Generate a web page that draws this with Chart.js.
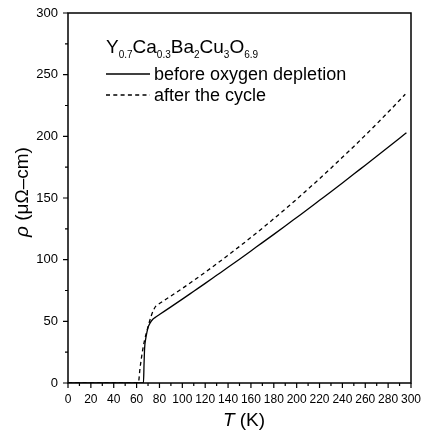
<!DOCTYPE html>
<html>
<head>
<meta charset="utf-8">
<script src="https://cdn.jsdelivr.net/npm/chart.js@4.4.1/dist/chart.umd.min.js"></script>
<style>
  html, body { margin: 0; padding: 0; background: #fff; }
  #wrap { width: 421px; height: 437px; }
</style>
</head>
<body>
<div id="wrap"><canvas id="c" width="421" height="437"></canvas></div>
<script>
// ---- data ----
const tBefore   = [0, 66, 66.5, 67, 68, 69, 70, 72, 74, 76, 80, 90, 100, 110, 120, 130, 140, 150, 160, 170, 180, 190, 200, 210, 220, 230, 240, 250, 260, 270, 280, 290, 296];
const rhoBefore = [0, 0, 15, 28, 36, 41, 45, 49, 51.5, 53, 55.5, 61.7, 68.0, 74.4, 80.8, 87.3, 93.8, 100.4, 107.1, 113.8, 120.5, 127.3, 134.2, 141.1, 148.1, 155.1, 162.2, 169.4, 176.6, 183.8, 191.1, 198.5, 203];
const tAfter    = [0, 61.5, 63, 65, 67, 69, 71, 73, 75, 77, 80, 90, 100, 110, 120, 130, 140, 150, 160, 170, 180, 190, 200, 210, 220, 230, 240, 250, 260, 270, 280, 290, 295];
const rhoAfter  = [0, 0, 12, 25, 35, 42, 49, 55, 59.5, 62.5, 64.4, 70.5, 76.7, 83.2, 89.8, 96.6, 103.6, 110.7, 118.0, 125.5, 133.2, 141.0, 149.0, 157.3, 165.6, 174.2, 183.0, 191.8, 200.9, 210.1, 219.6, 229.2, 234.1];
const seriesLabels = ["before oxygen depletion", "after the cycle"];
const formulaParts = [["Y",0],["0.7",1],["Ca",0],["0.3",1],["Ba",0],["2",1],["Cu",0],["3",1],["O",0],["6.9",1]];
const xTitle = ["T", " (K)"];
const yTitle = ["\u03C1", " (\u03BC\u03A9\u2013cm)"];
const xMin = 0, xMax = 300, xStep = 10, xLabelEvery = 20;
const yMin = 0, yMax = 300, yStep = 25, yLabelEvery = 50;

const FONT = "'Liberation Sans', Arial, Helvetica, sans-serif";
const toXY = (xs, ys) => xs.map((x, i) => ({x: x, y: ys[i]}));

const decor = {
  id: 'decor',
  afterDraw(chart) {
    const ctx = chart.ctx, a = chart.chartArea;
    const sx = chart.scales.x, sy = chart.scales.y;
    ctx.save();
    ctx.strokeStyle = '#000';
    ctx.fillStyle = '#000';
    // frame
    ctx.lineWidth = 1.5;
    ctx.strokeRect(a.left, a.top, a.right - a.left, a.bottom - a.top);
    // ticks
    ctx.lineWidth = 1.2;
    ctx.beginPath();
    sx.ticks.forEach(t => {
      const p = sx.getPixelForValue(t.value);
      const len = (t.value % xLabelEvery === 0) ? 5 : 3;
      ctx.moveTo(p, a.bottom); ctx.lineTo(p, a.bottom + len);
    });
    sy.ticks.forEach(t => {
      const p = sy.getPixelForValue(t.value);
      const len = (t.value % yLabelEvery === 0) ? 5 : 3;
      ctx.moveTo(a.left, p); ctx.lineTo(a.left - len, p);
    });
    ctx.stroke();

    // formula title
    let x = 106;
    const base = 53;
    formulaParts.forEach(([txt, sub]) => {
      ctx.font = sub ? `10px ${FONT}` : `19px ${FONT}`;
      ctx.textBaseline = 'alphabetic';
      ctx.textAlign = 'left';
      ctx.fillText(txt, x, sub ? base + 5 : base);
      x += ctx.measureText(txt).width;
    });

    // legend entries
    const rows = [74, 95];
    const dashes = [[], [4, 3.3]];
    rows.forEach((yy, i) => {
      ctx.lineWidth = 1.3;
      ctx.setLineDash(dashes[i]);
      ctx.beginPath();
      ctx.moveTo(106, yy); ctx.lineTo(150, yy);
      ctx.stroke();
      ctx.setLineDash([]);
      ctx.font = `18px ${FONT}`;
      ctx.textBaseline = 'middle';
      ctx.textAlign = 'left';
      ctx.fillText(seriesLabels[i], 154, yy + 1);
    });

    // axis titles
    const drawMixed = (parts, cx, cy) => {
      const fonts = [`italic 19px ${FONT}`, `19px ${FONT}`];
      let w = 0;
      const ws = parts.map((p, i) => { ctx.font = fonts[i]; const m = ctx.measureText(p).width; w += m; return m; });
      let px = cx - w / 2;
      ctx.textBaseline = 'middle';
      ctx.textAlign = 'left';
      parts.forEach((p, i) => { ctx.font = fonts[i]; ctx.fillText(p, px, cy); px += ws[i]; });
    };
    drawMixed(xTitle, 244, 421);
    ctx.save();
    ctx.translate(23, 192);
    ctx.rotate(-Math.PI / 2);
    drawMixed(yTitle, 0, 0);
    ctx.restore();

    ctx.restore();
  }
};

new Chart(document.getElementById('c'), {
  type: 'scatter',
  data: {
    datasets: [
      { label: seriesLabels[0], data: toXY(tBefore, rhoBefore), showLine: true, borderColor: '#000', borderWidth: 1.3, pointRadius: 0, cubicInterpolationMode: 'monotone', fill: false },
      { label: seriesLabels[1], data: toXY(tAfter, rhoAfter), showLine: true, borderColor: '#000', borderWidth: 1.3, borderDash: [4, 3.3], pointRadius: 0, cubicInterpolationMode: 'monotone', fill: false }
    ]
  },
  options: {
    responsive: false,
    animation: false,
    events: [],
    layout: { padding: { left: 0, right: 10, top: 13, bottom: 0 } },
    plugins: { legend: { display: false }, tooltip: { enabled: false }, title: { display: false } },
    scales: {
      x: {
        type: 'linear', min: xMin, max: xMax,
        grid: { display: false, drawTicks: false },
        border: { display: false },
        ticks: {
          stepSize: xStep, autoSkip: false, maxRotation: 0, minRotation: 0,
          padding: 9, color: '#000', font: { family: FONT, size: 12 },
          callback: v => (v % xLabelEvery === 0 ? String(v) : '')
        },
        afterFit: s => { s.height = 54; s.paddingLeft = 0; s.paddingRight = 0; }
      },
      y: {
        type: 'linear', min: yMin, max: yMax,
        grid: { display: false, drawTicks: false },
        border: { display: false },
        ticks: {
          stepSize: yStep, autoSkip: false,
          padding: 10, color: '#000', font: { family: FONT, size: 13 },
          callback: v => (v % yLabelEvery === 0 ? String(v) : '')
        },
        afterFit: s => { s.width = 68; s.paddingTop = 0; s.paddingBottom = 0; }
      }
    }
  },
  plugins: [decor]
});
</script>
</body>
</html>
